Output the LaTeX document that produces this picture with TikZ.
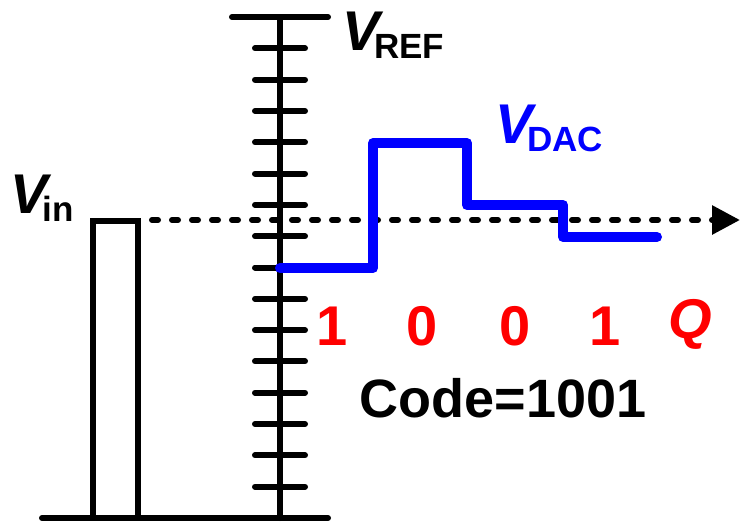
\documentclass[tikz,border=0pt]{standalone}
\usepackage{fontspec}
\setmainfont{Liberation Sans}
\usetikzlibrary{calc,arrows.meta}
\newcommand{\bigsz}{\fontsize{56}{60}\selectfont\bfseries}
\newcommand{\subsz}{\fontsize{35}{40}\selectfont\bfseries}
\newcommand{\volt}[1]{{\bigsz\itshape V}\kern-5pt\raisebox{-8pt}{\subsz #1}}
\tikzset{bit/.style={red, anchor=base, inner sep=0pt, font=\bigsz}}

\begin{document}
\begin{tikzpicture}[x=1pt, y=-1pt, line width=6pt, line cap=round]
  \useasboundingbox (0,0) rectangle (741,522);
  % 纵轴: 顶端 T, 底端 O, 均分 16 格
  \coordinate (T) at (280,17);
  \coordinate (O) at (280,518);
  \draw (T)--(O);
  \draw ($(T)+(-48,0)$)--($(T)+(48,0)$);
  \foreach \i in {1,...,15}
    \draw ($(T)!\i/16!(O)+(-25,0)$)--($(T)!\i/16!(O)+(25,0)$);
  % 底线与 Vin 矩形
  \coordinate (L) at (42,518);
  \coordinate (R) at (328,518);
  \draw (L)--(R);
  \coordinate (P1) at (93,518);
  \coordinate (P2) at (93,221);
  \coordinate (P3) at (138,221);
  \coordinate (P4) at (138,518);
  \draw[line cap=butt] (P1)--(P2)--(P3)--(P4);
  % 虚线箭头: Vin 电平
  \coordinate (S) at (152,220);
  \coordinate (E) at (740,220);
  \draw[dash pattern=on 6pt off 14pt, -{Triangle[length=28pt,width=28pt]}] (S)--(E);
  % DAC 输出阶梯
  \coordinate (D0) at (280,268);
  \coordinate (D1) at (373,143);
  \coordinate (D2) at (467,205);
  \coordinate (D3) at (563,237);
  \coordinate (D4) at (657,237);
  \draw[blue, line width=10pt, line join=round] (D0) -| (D1) -| (D2) -| (D3) -- (D4);
  % 标注
  \node[anchor=base west, inner sep=0pt] (vref) at (339,50) {\volt{REF}};
  \node[anchor=base west, inner sep=0pt, blue] (vdac) at (492,143) {\volt{DAC}};
  \node[anchor=base west, inner sep=0pt] (vin) at (7,213) {\volt{in}};
  \node[bit] (b1) at (332,345) {1};
  \node[bit] (b2) at (422,345) {0};
  \node[bit] (b3) at (515,345) {0};
  \node[bit] (b4) at (605,345) {1};
  \node[bit] (q) at (690,338) {\itshape Q};
  \node[anchor=base, inner sep=0pt, font=\fontsize{54}{60}\selectfont\bfseries] (code) at (503,417) {Code=1001};
\end{tikzpicture}
\end{document}
